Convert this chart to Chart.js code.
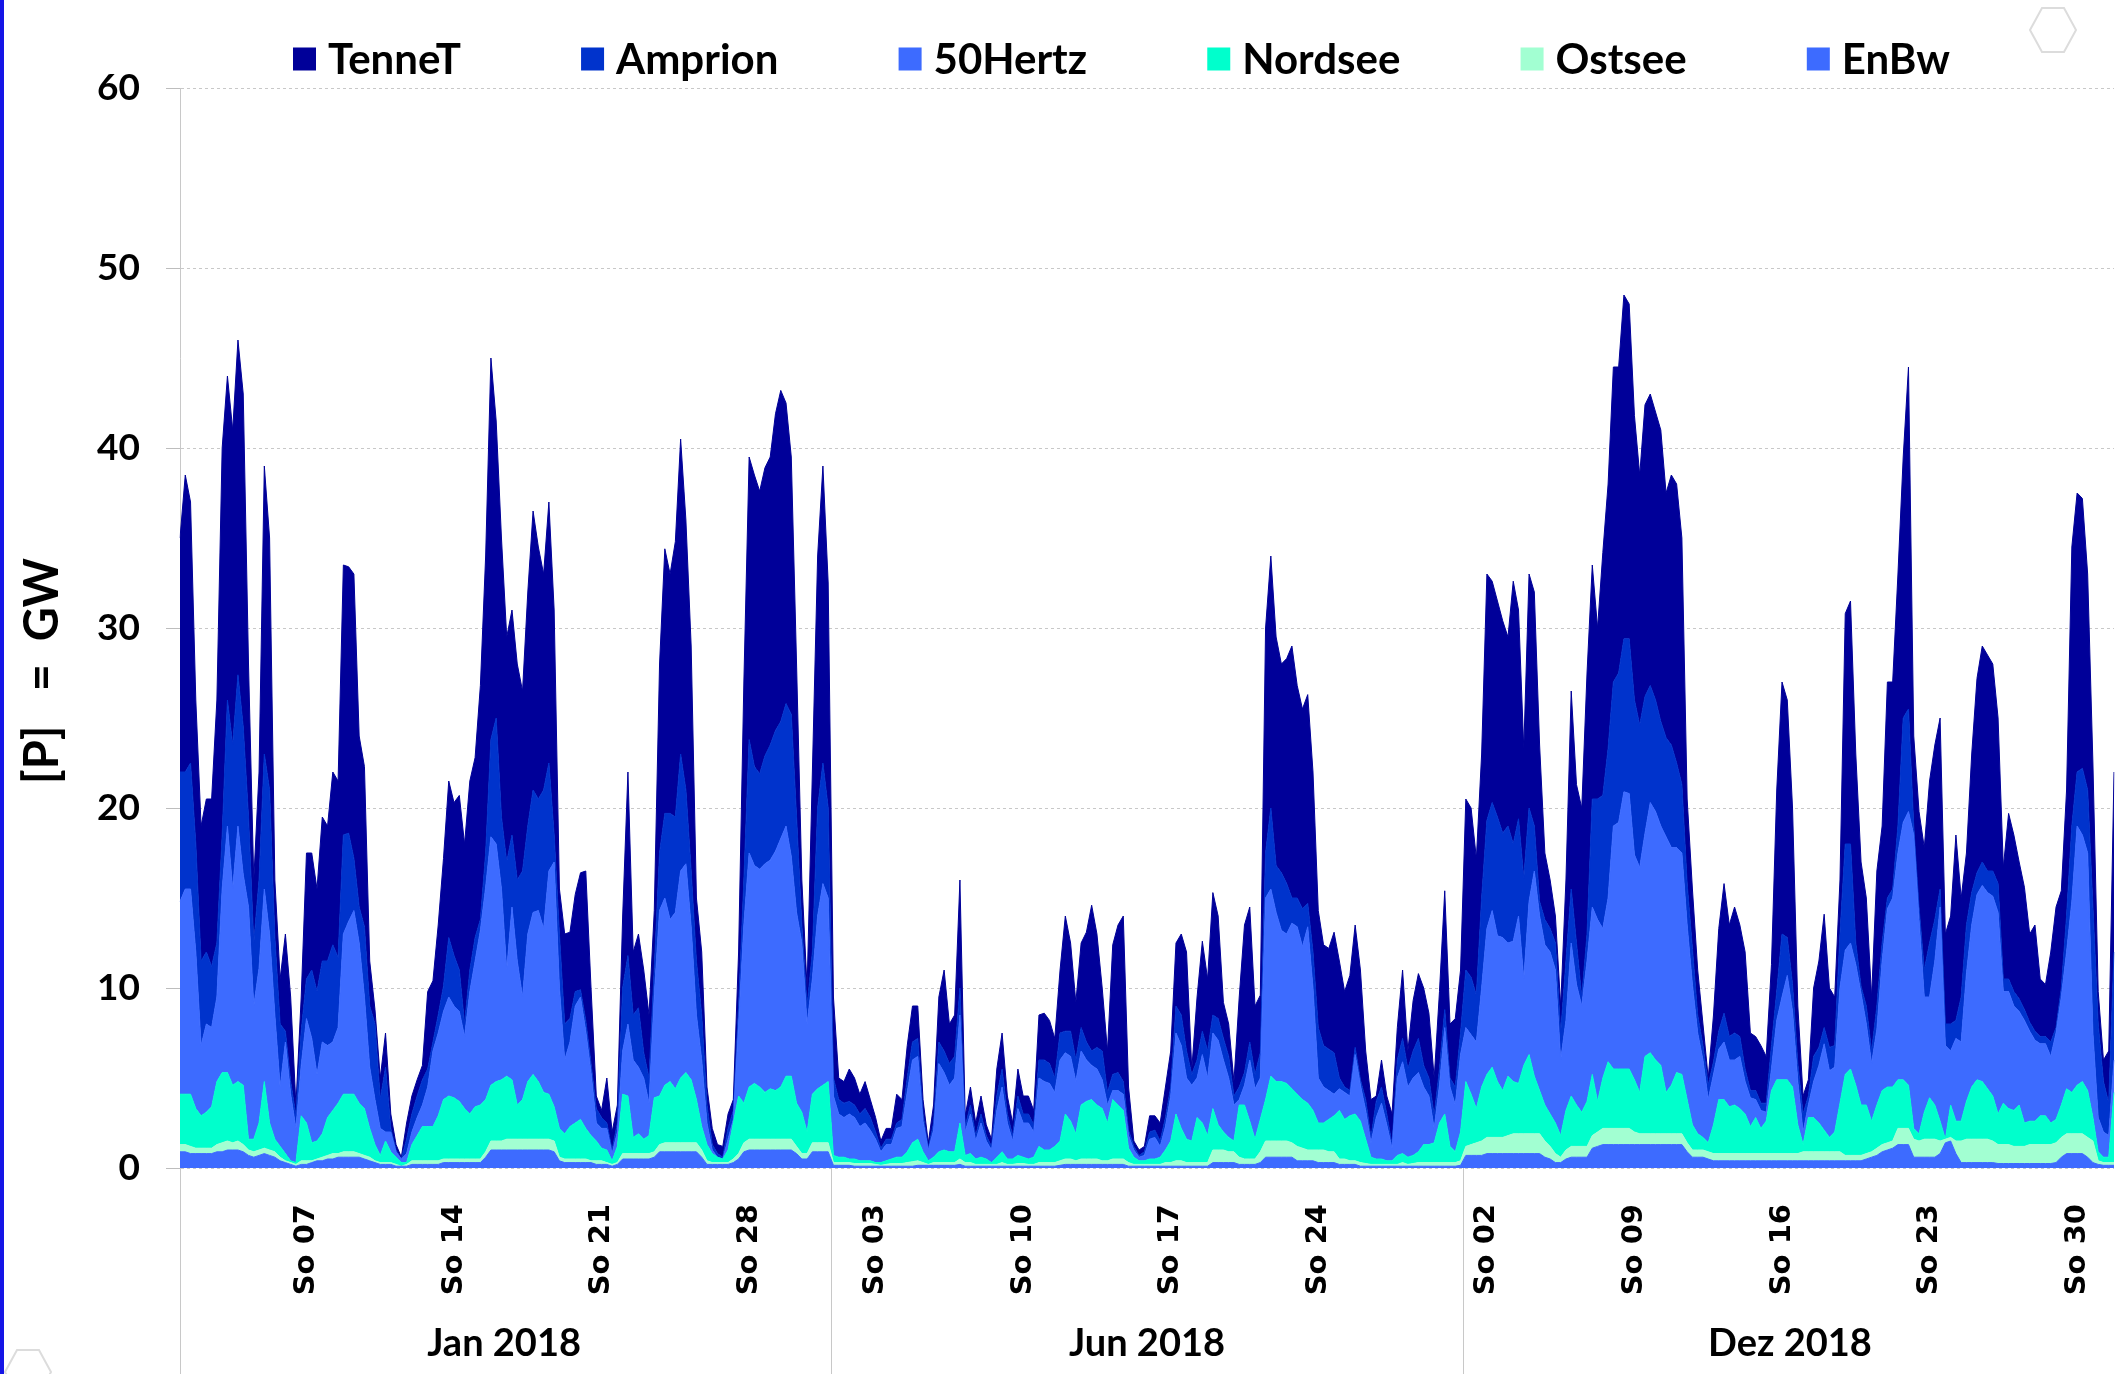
<!DOCTYPE html>
<html>
<head>
<meta charset="utf-8">
<script src="https://cdn.jsdelivr.net/npm/chart.js@4.4.1/dist/chart.umd.min.js"></script>
<style>
  html, body { margin: 0; padding: 0; background: #fff; }
  #wrap { position: relative; width: 2118px; height: 1374px; overflow: hidden; background: #fff; }
  #wrap canvas { position: absolute; left: 0; top: 0; }
  #edge { position: absolute; left: 0; top: 0; width: 4px; height: 1374px; background: #1515e6; }
  #deco { position: absolute; left: 0; top: 0; pointer-events: none; }
</style>
</head>
<body>
<div id="wrap">
  <canvas id="chart" width="2118" height="1374"></canvas>
  <div id="edge"></div>
  <svg id="deco" width="2118" height="1374">
    <polygon points="2030,30 2042,8 2064,8 2076,30 2064,52 2042,52" fill="none" stroke="#dcdcdc" stroke-width="2"/>
    <polygon points="5,1372 17,1350 39,1350 51,1372 39,1394 17,1394" fill="none" stroke="#dcdcdc" stroke-width="2"/>
  </svg>
</div>
<script>
// Wind feed-in per control area, GW, four values per day (00, 06, 12, 18 h)
const monthNames = ['Jan 2018', 'Jun 2018', 'Dez 2018'];
const monthIndex = [0, 5, 11];
const monthDays = [31, 30, 31];
const slotHours = [0, 6, 12, 18];
const seriesNames = ['EnBw', 'Ostsee', 'Nordsee', '50Hertz', 'Amprion', 'TenneT'];
const seriesColors = ['#3d6bff', '#a2ffd2', '#00ffcc', '#3d6bff', '#0033cc', '#000099'];

// ---- January ----
const enbwJan = [
  0.9,0.9,0.8,0.8, 0.8,0.8,0.8,0.9, 0.9,1,1,1, 0.9,0.7,0.6,0.7, 0.8,0.7,0.6,0.4, 0.3,0.2,0.1,0.2, 0.2,0.3,0.4,0.4,
  0.5,0.5,0.6,0.6, 0.6,0.6,0.6,0.5, 0.4,0.3,0.2,0.2, 0.2,0.1,0.1,0.1, 0.2,0.2,0.2,0.2, 0.2,0.2,0.3,0.3, 0.3,0.3,0.3,0.3,
  0.3,0.3,0.6,1, 1,1,1,1, 1,1,1,1, 1,1,1,0.9, 0.4,0.3,0.3,0.3, 0.3,0.3,0.3,0.2, 0.2,0.2,0.1,0.2,
  0.5,0.5,0.5,0.5, 0.5,0.5,0.6,0.9, 0.9,0.9,0.9,0.9, 0.9,0.9,0.9,0.6, 0.2,0.2,0.2,0.2, 0.2,0.3,0.5,0.9, 1,1,1,1,
  1,1,1,1, 1,0.8,0.5,0.5, 0.9,0.9,0.9,0.9
];
const ostseeJan = [
  0.4,0.4,0.4,0.3, 0.3,0.3,0.3,0.4, 0.5,0.5,0.4,0.5, 0.4,0.3,0.3,0.3, 0.3,0.3,0.3,0.2, 0.1,0.1,0.1,0.2, 0.2,0.1,0.1,0.2,
  0.2,0.3,0.2,0.3, 0.3,0.3,0.2,0.2, 0.2,0.1,0.1,0.1, 0.1,0.1,0,0.1, 0.2,0.2,0.2,0.2, 0.2,0.2,0.2,0.2, 0.2,0.2,0.2,0.2,
  0.2,0.2,0.3,0.5, 0.5,0.5,0.6,0.6, 0.6,0.6,0.6,0.6, 0.6,0.6,0.6,0.6, 0.2,0.2,0.2,0.2, 0.2,0.2,0.1,0.2, 0.2,0.1,0.1,0.1,
  0.3,0.3,0.3,0.3, 0.3,0.3,0.3,0.4, 0.5,0.5,0.5,0.5, 0.5,0.5,0.5,0.4, 0.2,0.1,0.1,0.1, 0.1,0.2,0.3,0.5, 0.6,0.6,0.6,0.6,
  0.6,0.6,0.6,0.6, 0.6,0.4,0.3,0.3, 0.5,0.5,0.5,0.5
];
const nordseeJan = [
  2.8,2.8,2.9,2.2, 1.8,2,2.3,3.5, 3.9,3.8,3.2,3.3, 3.3,0.6,0.7,1.5, 3.7,1.5,0.7,0.6, 0.4,0.1,0.1,2.5, 2.1,1,1,1.3,
  2.1,2.4,2.8,3.2, 3.2,3.2,2.8,2.6, 1.6,0.9,0.4,1.2, 0.6,0.4,0.2,0.1, 0.9,1.4,1.9,1.9, 1.9,2.5,3.3,3.5, 3.4,3.2,2.8,2.5,
  2.9,3,2.9,3.1, 3.3,3.4,3.5,3.3, 1.9,2.2,3.2,3.6, 3.2,2.6,2.5,1.9, 1.6,1.4,1.8,2, 2.2,1.7,1.4,1.1, 0.7,0.7,0.2,0.9,
  3.3,3.2,0.9,1.1, 0.8,1,3,2.7, 3.2,3.4,3,3.6, 3.9,3.5,2.4,1.3, 0.9,0.5,0.3,0.2, 0.7,2,3.2,2.2, 2.9,3.1,2.9,2.6,
  2.8,2.7,2.9,3.5, 3.5,2.4,2.3,1.2, 2.7,3,3.2,3.4
];
const hertzJan = [
  10.7,11.4,11.4,8.7, 3.9,4.9,4.4,4.7, 10.2,13.7,10.9,14.2, 11.7,12.9,7.4,8.6, 10.7,10.5,6.9,3.3, 6.2,3.7,1.9,2.8, 5.8,5.8,3.7,5.1,
  4,3.8,4.2,8.9, 9.6,10.2,8.9,6.2, 3.4,2.5,1.5,0.5, 1.1,0.3,0.2,0.5, 0.7,1,1.2,2.2, 4.2,4.6,4.9,5.5, 5.1,5,4,6.8,
  8.1,9.7,11.8,13.8, 13.2,10.6,5.9,9.6, 8,5.7,8.2,9, 9.5,9.1,12.4,13.6, 7.8,4.1,4.7,6.5, 6.8,5.4,3.5,1, 1.1,1.2,0.4,0.8,
  2.4,4,4.3,3.7, 3.4,1.8,5.7,10.3, 10.4,9,9.8,11.5, 11.6,8.5,4.7,3.7, 1.2,0.2,0,0, 0.6,0.2,4,9.9, 13,12.1,12.1,12.7,
  12.7,13.3,13.8,13.9, 12.2,10.6,9.4,6, 6.4,9.6,11.2,10.2
];
const amprionJan = [
  7.2,6.5,7,6, 4.7,4,3.4,3, 3,7,8,8.4, 8.2,5,3.5,4.9, 7.5,8,4.3,3.5, 0.6,0.7,0.7,1.9, 2.2,3.8,4.6,4.5,
  4.7,5.4,3.9,5.5, 4.9,2.9,2,3.9, 3.4,4.2,1.6,3.6, 0.2,0.1,0,0.8, 1,1.2,1.4,1, 0.5,1,1.4,3.3, 2.8,2.3,0.7,1.2,
  1.3,0.6,1.9,5.4, 7,4,6,4, 4.5,7,6,6.8, 6.2,7.7,6,1.5, 3,2,1.3,0.8, 0.4,0.6,0.5,0.8, 0.6,0.3,0.2,0.5,
  3.5,3.8,2.5,3.3, 1.4,1.4,1.5,3.2, 4.7,5.9,5.3,6.5, 4.1,3.1,3,2.5, 1,0.3,0.2,0.1, 0.6,0.5,1,2.5, 6.3,5.5,5.3,6,
  6.4,6.7,6.5,6.8, 7.9,5.3,1,1, 1.5,6,6.7,5
];
const tennetJan = [
  13,16.5,14.5,8, 7.5,8.5,9.3,13.5, 21.5,18,17.5,18.6, 18.5,8.5,3.5,6, 16,14,3.2,2.5, 5.4,4.7,0.6,1.9, 7,6.5,5.7,8,
  7.5,9.6,9.8,15, 14.8,15.8,9.5,8.9, 2.5,0.8,1.2,1.9, 0.8,0.3,0.1,0.9, 1,0.9,0.8,4.3, 3.4,5,7.1,8.7, 8.5,9.7,10,10.5,
  10,13,16.5,21.2, 16.5,15.5,12.5,12.5, 12,10,13,15.5, 14,12,14.5,12.5, 2.5,5,4.8,5.4, 6.5,8.3,4.2,0.7, 0.4,2.5,1,1,
  4,10.2,3.5,4.1, 4.6,3.5,3.2,10.5, 14.7,13.3,15.3,17.5, 15,12.5,3.5,3.5, 1,0.9,0.5,0.6, 0.8,0.6,3,11, 15.7,16.2,15.7,16,
  16,17.6,18.4,16.7, 14.3,8.5,2.5,1, 10,14,16.5,12.5
];

// ---- June ----
const enbwJun = [
  0.15,0.15,0.15,0.15, 0.1,0.1,0.1,0.1, 0.1,0.1,0.1,0.1, 0.1,0.1,0.1,0.1, 0.15,0.15,0.15,0.15, 0.15,0.15,0.15,0.15, 0.2,0.1,0.1,0.1,
  0.1,0.1,0.1,0.1, 0.1,0.1,0.1,0.1, 0.1,0.1,0.1,0.1, 0.1,0.1,0.1,0.15, 0.2,0.2,0.2,0.2, 0.2,0.2,0.2,0.2, 0.2,0.2,0.2,0.2,
  0.1,0.1,0.1,0.1, 0.1,0.1,0.1,0.1, 0.1,0.1,0.1,0.1, 0.1,0.1,0.1,0.1, 0.3,0.3,0.3,0.3, 0.3,0.2,0.2,0.2, 0.2,0.3,0.6,0.6,
  0.6,0.6,0.6,0.6, 0.4,0.4,0.4,0.4, 0.3,0.3,0.3,0.3, 0.2,0.2,0.2,0.2, 0.1,0.1,0.1,0.1, 0.1,0.1,0.1,0.1, 0.1,0.1,0.1,0.1,
  0.1,0.1,0.1,0.1, 0.1,0.1,0.1,0.15
];
const ostseeJun = [
  0.15,0.15,0.15,0.15, 0.15,0.15,0.15,0.15, 0.1,0.05,0.1,0.15, 0.15,0.15,0.2,0.25, 0.25,0.15,0.05,0.15, 0.15,0.15,0.15,0.15, 0.3,0.2,0.2,0.1,
  0.1,0.1,0.1,0.1, 0.2,0.1,0.1,0.15, 0.15,0.1,0.1,0.2, 0.2,0.2,0.2,0.25, 0.3,0.3,0.2,0.3, 0.3,0.3,0.3,0.2, 0.2,0.3,0.3,0.3,
  0.2,0.1,0.1,0.1, 0.1,0.1,0.1,0.2, 0.2,0.3,0.3,0.2, 0.2,0.2,0.2,0.2, 0.7,0.7,0.7,0.6, 0.6,0.4,0.3,0.3, 0.3,0.6,0.9,0.9,
  0.9,0.9,0.9,0.8, 0.8,0.7,0.6,0.6, 0.7,0.7,0.6,0.6, 0.3,0.3,0.2,0.2, 0.2,0.15,0.1,0.1, 0.1,0.1,0.1,0.1, 0.2,0.1,0.15,0.2,
  0.2,0.2,0.2,0.2, 0.2,0.2,0.2,0.25
];
const nordseeJun = [
  0.4,0.3,0.3,0.2, 0.25,0.15,0.15,0.15, 0.1,0.15,0.2,0.25, 0.35,0.35,0.6,1.05, 1.2,0.6,0.2,0.3, 0.6,0.7,0.6,0.6, 2,0.4,0.5,0.3,
  0.4,0.3,0.1,0.4, 0.6,0.3,0.3,0.45, 0.35,0.3,0.4,0.9, 0.7,0.7,0.9,1.1, 2.5,2.1,1.5,3, 3.2,3.3,3,2.9, 2.1,3.3,3,2.7,
  0.8,0.4,0.2,0.2, 0.3,0.3,0.4,0.7, 1.2,2.6,1.8,1.3, 1.2,2.5,2.2,1.5, 2.3,1.4,1,0.8, 0.6,2.9,3,2.1, 1.1,1.8,2.3,3.6,
  3.3,3.3,3.2,3, 2.9,2.7,2.6,2.2, 1.5,1.5,1.8,2, 2.7,2.2,2.5,2.6, 2.3,1.35,0.4,0.3, 0.3,0.2,0.2,0.5, 0.5,0.4,0.45,0.6,
  1,1,1.1,2.2, 2.7,0.9,0.6,1.6
];
const hertzJun = [
  3.3,2.4,2.2,2.5, 2.3,1.9,2.1,1.7, 1.3,0.6,0.9,0.8, 1.6,1.7,3.3,4.6, 4.6,1.7,0.6,1.5, 4.9,4.3,3.7,4.1, 6,1.3,2.2,1,
  1.9,1,0.7,2.6, 3.6,2,1,2.6, 1.9,2,1.4,3.8, 3.8,3.7,3,4.5, 3.4,3.6,2.9,3, 2.3,1.9,2,1.6, 1,0.5,0.8,0.9,
  0.7,0.4,0.2,0.3, 1.1,1.2,0.6,1.3, 2.5,4.5,4.6,3.4, 3.1,2.2,3.8,3.2, 4.2,4.7,4,3.3, 2,0.3,1.1,3.4, 2.8,2.3,11.2,10.4,
  9.4,8.4,8.3,9.2, 9.3,8.5,9.8,6.8, 2.5,2,1.6,1.2, 1.2,1.5,1.1,3.3, 2,1.6,0.8,2.3, 3.1,2,0.7,4.3, 5.1,3.9,4.3,4.4,
  3.2,2.7,0.8,2.1, 4.8,3.3,2.6,4.3
];
const amprionJun = [
  1,0.8,0.8,0.7, 0.7,0.7,0.8,0.7, 0.4,0.2,0.3,0.3, 0.3,0.4,0.8,1, 1,0.4,0.1,0.4, 1.2,1.2,1.2,1.2, 1.5,0.3,0.5,0.3,
  0.5,0.3,0.2,0.8, 1,0.5,0.3,0.7, 0.5,0.5,0.4,1, 1.2,1.1,0.8,1.5, 1.2,1.4,1.2,1.3, 1,0.8,1.2,1.6, 0.7,0.9,1,0.7,
  0.3,0.2,0.1,0.2, 0.4,0.4,0.3,0.5, 0.5,1.5,1.7,1.5, 0.6,1,1.3,1.5, 1,1.2,1.2,1.2, 0.5,0.7,0.7,1, 0.8,1.4,2.5,4.5,
  2.6,3.2,2.8,1.4, 1.6,2.1,1.3,2, 2.8,2.3,2.3,2.3, 0.6,0.3,0.3,0.4, 0.3,0.6,0.3,0.9, 0.9,0.6,0.2,1, 1.3,1,1.5,1.9,
  1.2,1,0.7,0.9, 1,0.5,1,1.2
];
const tennetJun = [
  4.5,1.2,1.2,1.8, 1.5,1.1,1.5,1, 0.8,0.4,0.6,0.6, 1.6,1.1,1.8,2, 1.8,0.8,0.3,1, 2.5,4.5,2.2,2.3, 6,0.6,1,0.7,
  1,0.6,0.4,1.5, 2,1,0.7,1.5, 1,1,0.8,2.5, 2.6,2.4,2.2,3.5, 6.4,4.9,3.2,4.7, 6.1,8.1,6.3,3.5, 2.3,7.2,8.2,9.2,
  2.4,0.3,0.3,0.3, 0.9,0.8,1,1.7, 2,3.5,4.5,5.5, 0.3,3.5,5,4, 6.8,5.7,2,1.8, 0.8,5,8.2,7.5, 3.8,3.2,12.5,14,
  12.7,11.6,12.5,14, 11.8,11.1,11.6,10, 6.5,5.6,5.6,6.7, 6.5,5.3,6.4,6.8, 6.1,2.7,2.1,0.3, 1.5,1,1.7,1.8, 3.8,1,2.8,3.6,
  4.3,3.6,2.1,4.3, 6.6,3,3.8,3.5
];

// ---- December ----
const enbwDez = [
  0.7,0.7,0.7,0.7, 0.8,0.8,0.8,0.8, 0.8,0.8,0.8,0.8, 0.8,0.8,0.8,0.6, 0.5,0.3,0.3,0.5, 0.6,0.6,0.6,0.6, 1.1,1.2,1.3,1.3,
  1.3,1.3,1.3,1.3, 1.3,1.3,1.3,1.3, 1.3,1.3,1.3,1.3, 1.3,1.3,0.9,0.6, 0.6,0.6,0.5,0.4, 0.4,0.4,0.4,0.4, 0.4,0.4,0.4,0.4,
  0.4,0.4,0.4,0.4, 0.4,0.4,0.4,0.4, 0.4,0.4,0.4,0.4, 0.4,0.4,0.4,0.4, 0.4,0.4,0.4,0.4, 0.5,0.6,0.7,0.9, 1,1.1,1.3,1.3,
  1.3,0.6,0.6,0.6, 0.6,0.6,0.8,1.4, 1.5,0.8,0.3,0.3, 0.3,0.3,0.3,0.3, 0.3,0.25,0.25,0.25, 0.25,0.25,0.25,0.25, 0.25,0.25,0.25,0.25,
  0.3,0.6,0.8,0.8, 0.8,0.8,0.6,0.3, 0.2,0.15,0.15,0.15
];
const ostseeDez = [
  0.5,0.6,0.7,0.8, 0.9,0.9,0.9,0.9, 1,1.1,1.1,1.1, 1.1,1.1,1.1,0.9, 0.7,0.5,0.3,0.5, 0.6,0.6,0.6,0.6, 0.7,0.8,0.9,0.9,
  0.9,0.9,0.9,0.9, 0.7,0.6,0.6,0.6, 0.6,0.6,0.6,0.6, 0.6,0.6,0.5,0.4, 0.4,0.4,0.4,0.4, 0.4,0.4,0.4,0.4, 0.4,0.4,0.4,0.4,
  0.4,0.4,0.4,0.4, 0.4,0.4,0.4,0.4, 0.5,0.5,0.5,0.5, 0.5,0.5,0.5,0.5, 0.3,0.3,0.3,0.3, 0.3,0.3,0.4,0.4, 0.4,0.4,0.9,0.9,
  0.9,1,0.9,1, 1,1,0.7,0.2, 0.2,0.7,1.2,1.3, 1.3,1.3,1.3,1.3, 1.2,1.05,1.05,1.05, 0.95,0.95,0.95,1.05, 1.05,1.05,1.05,1.05,
  1.1,1.1,1.1,1.1, 1.1,1.1,1.1,1.2, 0.2,0.15,0.15,0.15
];
const nordseeDez = [
  3.6,2.8,1.9,3, 3.5,3.9,3.1,2.6, 3.3,2.9,2.8,3.8, 4.4,3.2,2.4,2, 1.8,1.7,1.2,2.2, 2.8,2.3,1.9,2.5, 3.4,1.7,2.8,3.7,
  3.3,3.3,3.3,3.3, 2.9,2.3,4.3,4.5, 4.1,3.8,2.3,2.7, 3.4,3.3,2.4,1.4, 0.9,0.7,0.5,1.6, 3,3,2.6,2.7, 2.5,2.2,1.5,2,
  1.4,1.8,3.5,4.1, 4.1,4.1,3.7,1.6, 0.4,1.9,1.9,1.6, 1.2,0.8,1.1,2.7, 4.5,4.8,3.9,2.8, 2.7,1.7,2.4,3, 3.1,3,2.7,2.7,
  2.4,0.6,0.4,1.5, 2.3,1.9,1.1,0, 1.8,1.1,1.1,2.1, 2.9,3.3,3.2,2.8, 2.5,1.7,2.3,2, 2,2.3,1.3,1.3, 1.3,1.6,1.6,1.2,
  1.3,1.8,2.5,2.3, 2.7,2.9,2.6,1.3, 0.5,0.3,0.3,3.9
];
const hertzDez = [
  3,3.3,3.7,5.5, 8.1,8.7,8.1,8.5, 7.4,7.8,9.3,4.8, 8.5,11.4,9.7,8.9, 9,8.5,4.2,5, 8.5,6.7,5.9,7.8, 9.3,10.1,8.3,9.1,
  13.5,13.7,15.4,15.3, 12.5,12.5,12.4,13.9, 13.8,13.3,14.2,13.2, 12.5,12.3,9.7,7.8, 5.6,4.3,2.4,2.8, 2.8,3.2,2.6,2.5, 2.9,1.8,1.6,1,
  1,0.5,1.2,3.3, 4.6,5.8,4.2,2.4, 0.7,0.7,2,3.2, 4.8,3.7,3.6,6.4, 6.9,7,6.7,6.2, 4.5,3.2,4.2,7.2, 9.9,10.5,12.6,14.3,
  15.2,16.3,11.9,6.4, 5.6,8,11.9,5.2, 3,4.6,4.4,7.1, 9,10.3,10.9,10.9, 11.1,11.2,6.2,6.5, 5.8,5.2,5.7,5, 4.5,4,4,3.7,
  4.8,6,7.6,10.6, 14.4,13.7,13.2,4.7, 1.9,1.4,1.2,1.8
];
const amprionDez = [
  3.2,3.2,2.6,5, 6,6,6.6,5.8, 6.5,5.4,5.4,5.6, 5.2,2.5,0.8,1.4, 1.3,1.5,1.5,3.3, 3,2.3,0.5,1.5, 6,6.7,7.4,8.3,
  8,8.3,8.5,8.6, 8.6,7.9,7.6,6.5, 6.2,5.8,5.5,5.7, 4.7,3.8,2.3,2, 1,0.8,0.8,0.7, 1,1.6,1.3,1.5, 1.1,0.7,0.4,0.5,
  0.4,0.5,1.3,1.6, 3.5,2.1,1.5,1, 1,0.5,1.4,1, 0.9,1.3,1.2,3, 5.9,5.5,1.2,0.4, 1,0.7,1.3,1, 0.6,0.5,1.5,5.8,
  5.7,0.5,0.7,1.5, 3,2.3,1,1.2, 1.5,1,2.5,2.7, 1.8,1.2,1.3,1.2, 1.4,1.6,0.7,0.7, 0.8,0.7,0.6,0.5, 0.5,0.4,0.4,0.8,
  0.3,0.5,2,4.2, 3,3.7,3.5,7, 5.2,2.8,1.8,6
];
const tennetDez = [
  9.5,9.4,7.6,8, 13.7,12.3,12,11.8, 10.5,14.6,11.6,7.2, 13,13,8.7,3.7, 2.7,1.5,1.5,4.5, 11,8.8,10.5,14.5, 13,9.5,13.5,14.7,
  17.5,17,19.1,18.6, 15.8,13.9,16.2,16.2, 16,16.2,13.6,15, 15.5,13.7,4.7,3.3, 2.5,1.2,0.4,2.6, 5.7,7.2,6.2,7, 6.2,6.5,3.2,3,
  3.2,2.6,4.5,11.2, 14,13.2,9.8,3.2, 1,0.9,3.8,4.8, 6.3,3.3,2.7,3, 12.8,13.5,10.5,6.9, 6,3,7.5,6.5, 12,11.5,14,14.5,
  19,5,5.3,6.8, 9,9.7,9.5,5, 6,10.3,5.5,4, 7.7,10.8,12,12, 11.5,9.2,6.2,9.2, 8.7,7.6,6.8,4.9, 5.9,3.2,2.9,5,
  6.7,5.4,7,15.5, 15.5,15,12,8, 1.8,1.2,2.9,10
];

const enbw = [...enbwJan, ...enbwJun, ...enbwDez];
const ostsee = [...ostseeJan, ...ostseeJun, ...ostseeDez];
const nordsee = [...nordseeJan, ...nordseeJun, ...nordseeDez];
const hertz = [...hertzJan, ...hertzJun, ...hertzDez];
const amprion = [...amprionJan, ...amprionJun, ...amprionDez];
const tennet = [...tennetJan, ...tennetJun, ...tennetDez];
const seriesValues = [enbw, ostsee, nordsee, hertz, amprion, tennet];

// Category labels (one per 6 h) and the Sunday tick texts
const labels = [];
const tickText = [];
monthIndex.forEach((m, k) => {
  for (let d = 1; d <= monthDays[k]; d++) {
    const weekday = new Date(2018, m, d).getDay();
    slotHours.forEach(h => {
      labels.push(`${String(d).padStart(2, '0')}.${String(m + 1).padStart(2, '0')}.2018 ${String(h).padStart(2, '0')}:00`);
      tickText.push(h === 0 && weekday === 0 ? 'So ' + String(d).padStart(2, '0') : '');
    });
  }
});

// Month index ranges on the category axis
const monthRanges = [];
{
  let start = 0;
  monthDays.forEach(days => {
    const n = days * slotHours.length;
    monthRanges.push([start, start + n - 1]);
    start += n;
  });
}

const datasets = seriesNames.map((name, i) => ({
  label: name,
  data: seriesValues[i],
  backgroundColor: seriesColors[i],
  borderColor: seriesColors[i],
  borderWidth: 1,
  pointRadius: 0,
  tension: 0,
  fill: i === 0 ? 'origin' : '-1'
}));

const decor = {
  id: 'decor',
  afterDraw(chart) {
    const { ctx, chartArea } = chart;
    const x = chart.scales.x;
    ctx.save();

    // month separators and month names below the day ticks
    ctx.strokeStyle = '#c8c8c8';
    ctx.lineWidth = 1;
    monthRanges.forEach(([a, b], k) => {
      const xl = k === 0 ? chartArea.left : (x.getPixelForValue(a - 1) + x.getPixelForValue(a)) / 2;
      const xs = Math.round(xl) + 0.5;
      ctx.beginPath();
      ctx.moveTo(xs, chartArea.bottom);
      ctx.lineTo(xs, chart.height);
      ctx.stroke();
      ctx.fillStyle = '#000';
      ctx.font = 'bold 38px Lato';
      ctx.textAlign = 'center';
      ctx.textBaseline = 'middle';
      ctx.fillText(monthNames[k], (x.getPixelForValue(a) + x.getPixelForValue(b)) / 2, 1344);
    });

    // y axis title
    ctx.save();
    ctx.translate(43, 671);
    ctx.rotate(-Math.PI / 2);
    ctx.font = 'bold 47px Lato';
    ctx.fillStyle = '#000';
    ctx.textAlign = 'center';
    ctx.textBaseline = 'middle';
    ctx.fillText('[P]   =  GW', 0, 0);
    ctx.restore();

    // legend, top of the stack first
    const items = chart.data.datasets.slice().reverse();
    ctx.font = 'bold 42px Lato';
    const box = 23, gapText = 12;
    const widths = items.map(d => box + gapText + ctx.measureText(d.label).width);
    const startX = 293, endX = 1950;
    const spacing = (endX - startX - widths.reduce((s, w) => s + w, 0)) / (items.length - 1);
    let lx = startX;
    const ly = 59;
    items.forEach((d, i) => {
      ctx.fillStyle = d.backgroundColor;
      ctx.fillRect(lx, ly - box / 2, box, box);
      ctx.fillStyle = '#000';
      ctx.textAlign = 'left';
      ctx.textBaseline = 'middle';
      ctx.fillText(d.label, lx + box + gapText, ly + 1);
      lx += widths[i] + spacing;
    });
    ctx.restore();
  }
};

new Chart(document.getElementById('chart'), {
  type: 'line',
  data: { labels, datasets },
  options: {
    responsive: false,
    devicePixelRatio: 1,
    animation: false,
    events: [],
    layout: { padding: { top: 88, right: 4, left: 0, bottom: 0 } },
    plugins: { legend: { display: false }, tooltip: { enabled: false } },
    scales: {
      x: {
        ticks: {
          autoSkip: false,
          minRotation: 90,
          maxRotation: 90,
          padding: 36,
          color: '#000',
          font: { family: 'DejaVu Sans', weight: 'bold', size: 29 },
          callback: (v, i) => tickText[i]
        },
        grid: { display: false, drawTicks: false },
        border: { display: false },
        afterFit: s => { s.height = 206; s.paddingLeft = 0; s.paddingRight = 0; }
      },
      y: {
        stacked: true,
        min: 0,
        max: 60,
        ticks: {
          stepSize: 10,
          padding: 26,
          color: '#000',
          font: { family: 'Lato', weight: 'bold', size: 37 }
        },
        grid: { color: '#c8c8c8', lineWidth: 1, tickLength: 14, tickColor: '#bdbdbd', tickWidth: 1 },
        border: { display: true, color: '#c8c8c8', width: 1, dash: [3, 3] },
        afterFit: s => { s.width = 180; }
      }
    }
  },
  plugins: [decor]
});
</script>
</body>
</html>
